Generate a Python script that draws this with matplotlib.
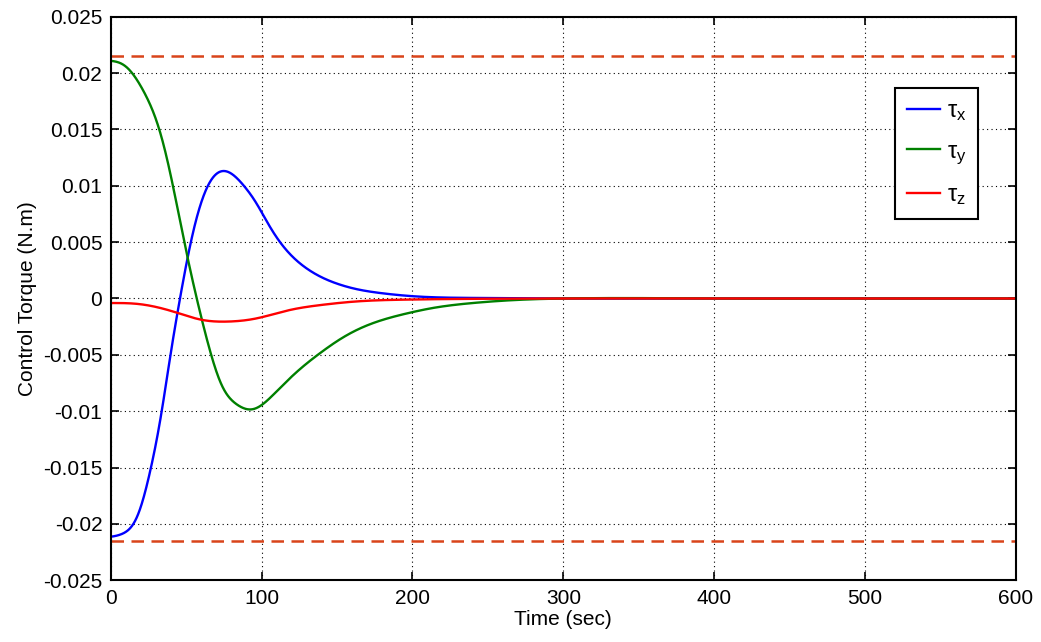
import numpy as np
import matplotlib
matplotlib.use("Agg")
import matplotlib.pyplot as plt

plt.rcParams["font.family"] = ["Liberation Sans", "DejaVu Sans"]
plt.rcParams["mathtext.fontset"] = "custom"
plt.rcParams["mathtext.rm"] = "Liberation Sans"
plt.rcParams["mathtext.it"] = "Liberation Sans"

# tau_x (blue)
tx_time = [0, 9.5, 18.3, 27, 33.8, 39.3, 45.9, 51.4, 63.6, 74.6, 89, 95.6, 104.4,
           113.2, 122, 130.9, 139.7, 150.7, 161.8, 179.5, 202.6, 240, 300, 400, 500, 600]
tx_val = [-0.02116, -0.0208, -0.0193, -0.0149, -0.0102, -0.0052, 0.0, 0.0040,
          0.0099, 0.0114, 0.0099, 0.0087, 0.0066, 0.0048, 0.0035, 0.00256,
          0.00188, 0.00128, 0.00086, 0.00047, 0.00018, 0.00005, 0.0, 0.0, 0.0, 0.0]

# tau_y (green)
ty_time = [0, 9.5, 22.7, 32.6, 41.5, 50.3, 57, 66.9, 73.5, 82.3, 93.4, 106.6,
           117.6, 128.7, 139.7, 150.7, 161.8, 172.8, 183.8, 197, 212.6, 240, 270,
           300, 400, 500, 600]
ty_val = [0.0211, 0.0207, 0.0182, 0.01495, 0.0099, 0.0040, 0.0, -0.0052,
          -0.0078, -0.0093, -0.0099, -0.0087, -0.00722, -0.00589, -0.00475,
          -0.00372, -0.00287, -0.00223, -0.00175, -0.0013, -0.00086, -0.0004,
          -0.00012, 0.0, 0.0, 0.0, 0.0]

# tau_z (red)
tz_time = [0, 18.3, 43.7, 60.3, 77.9, 95.6, 117.6, 139.7, 161.8, 195, 240, 300,
           400, 500, 600]
tz_val = [-0.0004, -0.00048, -0.00125, -0.0019, -0.00205, -0.0018, -0.00105,
          -0.00057, -0.00027, -0.0001, -0.00003, 0.0, 0.0, 0.0, 0.0]

# torque limit
limit = 0.0215


def spline(x, y, xs):
    # natural cubic spline through the read points
    x = np.asarray(x, float)
    y = np.asarray(y, float)
    n = len(x)
    h = np.diff(x)
    A = np.zeros((n, n))
    b = np.zeros(n)
    A[0, 0] = 1
    A[-1, -1] = 1
    for i in range(1, n - 1):
        A[i, i - 1] = h[i - 1]
        A[i, i] = 2 * (h[i - 1] + h[i])
        A[i, i + 1] = h[i]
        b[i] = 6 * ((y[i + 1] - y[i]) / h[i] - (y[i] - y[i - 1]) / h[i - 1])
    M = np.linalg.solve(A, b)
    k = np.clip(np.searchsorted(x, xs) - 1, 0, n - 2)
    dx1 = x[k + 1] - xs
    dx0 = xs - x[k]
    hk = h[k]
    ys = (M[k] * dx1**3 / (6 * hk) + M[k + 1] * dx0**3 / (6 * hk)
          + (y[k] / hk - M[k] * hk / 6) * dx1 + (y[k + 1] / hk - M[k + 1] * hk / 6) * dx0)
    # light gaussian smoothing to hide reading noise
    step = xs[1] - xs[0]
    s = 3.0 / step
    kx = np.arange(-int(4 * s), int(4 * s) + 1)
    ker = np.exp(-0.5 * (kx / s) ** 2)
    ker /= ker.sum()
    pad = len(kx) // 2
    yp = np.concatenate([np.full(pad, ys[0]), ys, np.full(pad, ys[-1])])
    return np.convolve(yp, ker, mode="valid")


fig = plt.figure(figsize=(10.41, 6.42), dpi=100)
ax = fig.add_axes([0.1063, 0.0960, 0.8697, 0.8781])

tt = np.linspace(0, 600, 3001)
ax.plot(tt, spline(tx_time, tx_val, tt), color="#0000ff", lw=1.7, label=r"$\tau_x$")
ax.plot(tt, spline(ty_time, ty_val, tt), color="#008000", lw=1.7, label=r"$\tau_y$")
ax.plot(tt, spline(tz_time, tz_val, tt), color="#ff0000", lw=1.7, label=r"$\tau_z$")
ax.axhline(limit, color="#d9441a", lw=1.8, ls=(0, (5, 3)))
ax.axhline(-limit, color="#d9441a", lw=1.8, ls=(0, (5, 3)))

ax.set_xlim(0, 600)
ax.set_ylim(-0.025, 0.025)
ax.set_xticks([0, 100, 200, 300, 400, 500, 600])
ax.set_yticks(np.arange(-0.025, 0.0251, 0.005))
ax.set_yticklabels(["-0.025", "-0.02", "-0.015", "-0.01", "-0.005", "0",
                    "0.005", "0.01", "0.015", "0.02", "0.025"])
ax.grid(True, color="black", ls=(0, (1, 3)), lw=0.8)
ax.tick_params(direction="in", top=True, right=True, length=6, width=1.2,
               labelsize=15, pad=6)
for s in ax.spines.values():
    s.set_linewidth(1.5)
ax.set_xlabel("Time (sec)", fontsize=15, labelpad=2)
ax.set_ylabel("Control Torque (N.m)", fontsize=15, labelpad=4)

leg = ax.legend(loc="upper right", bbox_to_anchor=(0.958, 0.873), fontsize=17,
                fancybox=False, framealpha=1, edgecolor="black", handlelength=1.4,
                borderpad=0.5, labelspacing=0.75, handletextpad=0.3, borderaxespad=0)
leg.get_frame().set_linewidth(1.5)

fig.savefig("out.png", dpi=100)
